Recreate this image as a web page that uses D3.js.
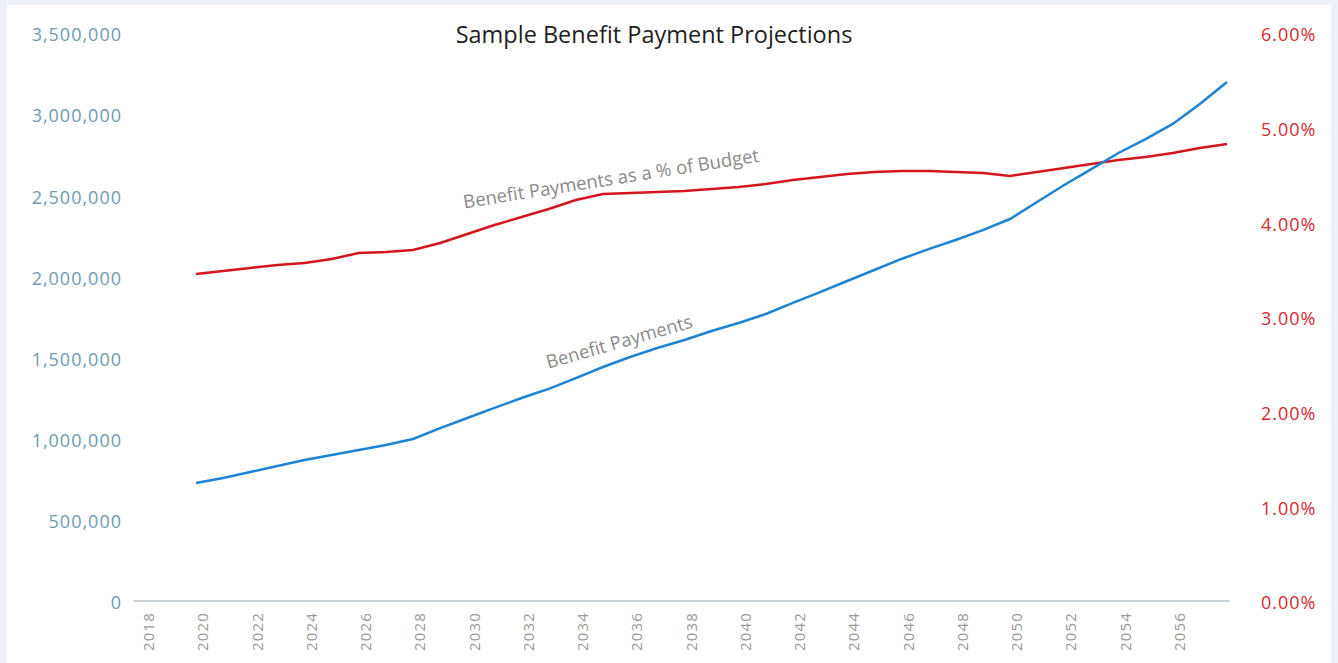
<!DOCTYPE html>
<html>
<head>
<meta charset="utf-8">
<script src="https://cdn.jsdelivr.net/npm/d3@7"></script>
<style>
  html, body { margin: 0; padding: 0; background: #edf0f7; }
  #chart { position: absolute; left: 7px; top: 5px; width: 1324px; height: 658px; background: #fff; }
</style>
</head>
<body>
<div id="chart"></div>
<script>
// Data
const years = d3.range(2020, 2059);
const payments = [
  739000, 770000, 807000, 844000, 881000, 912000, 943000, 974000, 1011000, 1078000,
  1140000, 1202000, 1263000, 1319000, 1386000, 1454000, 1516000, 1571000, 1621000, 1676000,
  1725000, 1781000, 1849000, 1916000, 1984000, 2052000, 2120000, 2181000, 2237000, 2298000,
  2366000, 2471000, 2576000, 2674000, 2773000, 2859000, 2952000, 3075000, 3210000
];
const pctBudget = [
  3.475, 3.507, 3.539, 3.570, 3.592, 3.634, 3.697, 3.708, 3.729, 3.803,
  3.898, 3.993, 4.077, 4.162, 4.257, 4.320, 4.331, 4.341, 4.352, 4.373,
  4.394, 4.426, 4.468, 4.500, 4.532, 4.553, 4.563, 4.563, 4.553, 4.542,
  4.511, 4.553, 4.595, 4.637, 4.679, 4.711, 4.753, 4.806, 4.849
];
const yearTicks = d3.range(2018, 2057, 2);
const leftTicks = [0, 500000, 1000000, 1500000, 2000000, 2500000, 3000000, 3500000];
const rightTicks = [0, 1, 2, 3, 4, 5, 6];

const width = 1324, height = 658;
const ox = 7, oy = 5; // panel offset inside page

const svg = d3.select('#chart').append('svg')
  .attr('width', width)
  .attr('height', height)
  .style('display', 'block');

// page coords -> panel coords
const g = svg.append('g').attr('transform', `translate(${-ox},${-oy})`);

const x = d3.scaleLinear().domain([2020, 2058]).range([196, 1227]);
const yL = d3.scaleLinear().domain([0, 3500000]).range([603, 35]);
const yR = d3.scaleLinear().domain([0, 6]).range([603, 35]);

const font = '"Open Sans", "Noto Sans", sans-serif';

// title
g.append('text')
  .attr('x', 654).attr('y', 43)
  .attr('text-anchor', 'middle')
  .attr('font-family', font)
  .attr('font-size', 23.5)
  .attr('fill', '#1e1e1e')
  .text('Sample Benefit Payment Projections');

// left axis labels
g.selectAll('.yl')
  .data(leftTicks)
  .enter().append('text')
  .attr('class', 'yl')
  .attr('x', 122)
  .attr('y', d => yL(d))
  .attr('dy', '0.35em')
  .attr('text-anchor', 'end')
  .attr('font-family', font)
  .attr('font-size', 18)
  .attr('letter-spacing', 1)
  .attr('fill', '#6f9ab2')
  .text(d => d3.format(',')(d));

// right axis labels
g.selectAll('.yr')
  .data(rightTicks)
  .enter().append('text')
  .attr('class', 'yr')
  .attr('x', 1261)
  .attr('y', d => yR(d))
  .attr('dy', '0.35em')
  .attr('font-family', font)
  .attr('font-size', 18)
  .attr('letter-spacing', 1)
  .attr('fill', '#d42a32')
  .text(d => d.toFixed(2) + '%');

// baseline
g.append('line')
  .attr('x1', x(2017.7)).attr('x2', x(2058.1))
  .attr('y1', 601).attr('y2', 601)
  .attr('stroke', '#b9c3ca')
  .attr('stroke-width', 1.5);

// year labels, rotated
g.selectAll('.yt')
  .data(yearTicks)
  .enter().append('text')
  .attr('class', 'yt')
  .attr('transform', d => `translate(${x(d) + 7},612) rotate(-90)`)
  .attr('dy', '0.35em')
  .attr('text-anchor', 'end')
  .attr('font-family', font)
  .attr('font-size', 15)
  .attr('letter-spacing', 1.2)
  .attr('fill', '#999')
  .text(d => d);

// lines
const lineL = d3.line().x((d, i) => x(years[i])).y(d => yL(d));
const lineR = d3.line().x((d, i) => x(years[i])).y(d => yR(d));

g.append('path')
  .datum(pctBudget)
  .attr('d', lineR)
  .attr('fill', 'none')
  .attr('stroke', '#d3161e')
  .attr('stroke-width', 2.5);

g.append('path')
  .datum(payments)
  .attr('d', lineL)
  .attr('fill', 'none')
  .attr('stroke', '#1f82d2')
  .attr('stroke-width', 2.5);

// in-chart labels
g.append('text')
  .attr('transform', 'translate(621,348) rotate(-16)')
  .attr('text-anchor', 'middle')
  .attr('font-family', font)
  .attr('font-size', 18.5)
  .attr('fill', '#8a8a8a')
  .text('Benefit Payments');

g.append('text')
  .attr('transform', 'translate(612,185) rotate(-9)')
  .attr('text-anchor', 'middle')
  .attr('font-family', font)
  .attr('font-size', 18.5)
  .attr('fill', '#8a8a8a')
  .text('Benefit Payments as a % of Budget');
</script>
</body>
</html>
